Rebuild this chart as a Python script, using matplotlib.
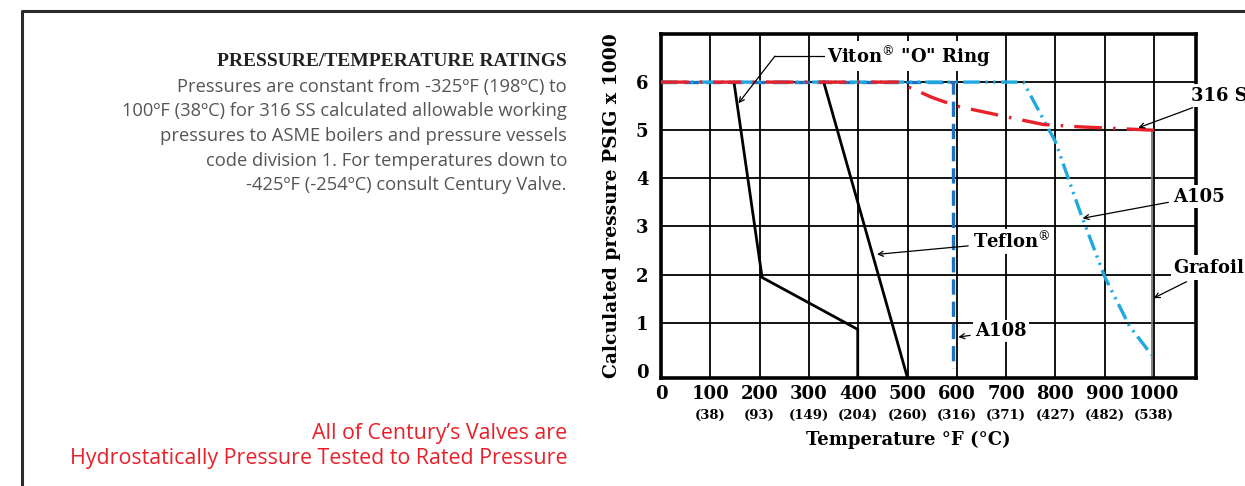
import matplotlib
matplotlib.use("Agg")
import matplotlib.pyplot as plt
from matplotlib.lines import Line2D

plt.rcParams['lines.scale_dashes'] = False
plt.rcParams['mathtext.fontset'] = 'dejavuserif'

# ---------------- data ----------------
temps_f = [0, 100, 200, 300, 400, 500, 600, 700, 800, 900, 1000]
temps_c = ["", "(38)", "(93)", "(149)", "(204)", "(260)", "(316)", "(371)", "(427)", "(482)", "(538)"]
pressure_ticks = [0, 1, 2, 3, 4, 5, 6]

y_floor = -0.15  # bottom of the chart frame

ss316_x = [0, 480, 550, 600, 700, 775, 850, 1000]
ss316_y = [6, 6, 5.68, 5.5, 5.28, 5.12, 5.07, 5.0]

a105_x = [0, 735, 800, 850, 900, 950, 995]
a105_y = [6, 6, 4.76, 3.3, 1.95, 0.93, 0.33]

a108_x = [0, 593, 593]
a108_y = [6, 6, 0.05]

viton_x = [148, 205, 399, 399]
viton_y = [6, 1.94, 0.86, y_floor]

teflon_x = [330, 500]
teflon_y = [6, y_floor]

grafoil_x = [995, 995]
grafoil_y = [5.0, y_floor]

# ---------------- figure ----------------
W, H = 1245, 486
fig = plt.figure(figsize=(W / 100, H / 100), dpi=100)
fig.patch.set_facecolor('white')

def fx(px):
    return px / W

def fy(py):
    return 1 - py / H

ax = fig.add_axes([fx(661), fy(378), fx(1196) - fx(661), fy(34) - fy(378)])
ax.set_xlim(0, 1085)
ax.set_ylim(y_floor, 7.0)

# grid
for t in temps_f[1:]:
    ax.axvline(t, color='black', lw=1.3, zorder=1)
for p in pressure_ticks[1:]:
    ax.axhline(p, color='black', lw=1.3, zorder=1)

for s in ax.spines.values():
    s.set_linewidth(2.6)
    s.set_color('black')

serif = 'DejaVu Serif'

ax.set_yticks(pressure_ticks)
ax.set_yticklabels([str(p) for p in pressure_ticks], fontfamily=serif,
                   fontweight='bold', fontsize=13)
ax.set_xticks(temps_f)
ax.set_xticklabels([str(t) for t in temps_f], fontfamily=serif,
                   fontweight='bold', fontsize=13)
ax.tick_params(axis='both', length=0)
ax.tick_params(axis='y', pad=9)
ax.tick_params(axis='x', pad=5)

xt = ax.get_xaxis_transform()
for t, c in zip(temps_f, temps_c):
    if c:
        ax.text(t, -0.108, c, transform=xt, ha='center', va='center',
                fontfamily=serif, fontweight='bold', fontsize=9.5, clip_on=False)

ax.text(0.462, -0.18, 'Temperature °F (°C)', transform=ax.transAxes, ha='center',
        va='center', fontfamily=serif, fontweight='bold', fontsize=13)
ax.text(-0.092, 0.5, 'Calculated pressure PSIG x 1000', transform=ax.transAxes,
        rotation=90, ha='center', va='center', fontfamily=serif,
        fontweight='bold', fontsize=13.5)

# ---------------- series ----------------
ax.plot(a108_x, a108_y, color='#1f70c1', lw=2.4, dashes=(11, 5), zorder=3)
ax.plot(a105_x, a105_y, color='#1ea8e0', lw=2.4, dashes=(12, 4, 1.6, 4, 1.6, 4), zorder=4)
ax.plot(ss316_x, ss316_y, color='#e8202a', lw=2.4, dashes=(20, 8, 1.8, 8), zorder=5)
ax.plot(viton_x, viton_y, color='black', lw=2.0, zorder=4, solid_joinstyle='miter')
ax.plot(teflon_x, teflon_y, color='black', lw=2.0, zorder=4)
ax.plot(grafoil_x, grafoil_y, color='#777777', lw=1.3, zorder=2)

# ---------------- annotations ----------------
lab_kw = dict(fontfamily=serif, fontweight='bold', fontsize=13, va='center',
              ha='left', annotation_clip=False, zorder=6,
              bbox=dict(boxstyle='square,pad=0.12', fc='white', ec='none'))
arr = dict(arrowstyle='->', color='black', lw=0.9, shrinkA=2, shrinkB=0,
           mutation_scale=9)

# Viton: elbow leader
ax.plot([231, 337], [6.54, 6.54], color='black', lw=0.9, zorder=5, clip_on=False)
ax.annotate('', xy=(157, 5.56), xytext=(231, 6.54),
            arrowprops=dict(arr, shrinkA=0), annotation_clip=False, zorder=6)
ax.annotate(r'Viton$^{\circledR}$ "O" Ring', xy=(337, 6.54), xytext=(337, 6.54), **lab_kw)

ax.annotate(r'Teflon$^{\circledR}$', xy=(438, 2.42), xytext=(633, 2.68),
            arrowprops=arr, **lab_kw)
ax.annotate('A108', xy=(603, 0.70), xytext=(637, 0.83),
            arrowprops=arr, **lab_kw)
ax.annotate('A105', xy=(855, 3.17), xytext=(1039, 3.62),
            arrowprops=arr, **lab_kw)
ax.annotate('316 SS', xy=(968, 5.05), xytext=(1074, 5.72),
            arrowprops=arr, **lab_kw)
ax.annotate(r'Grafoil$^{\circledR}$', xy=(999, 1.51), xytext=(1038, 2.14),
            arrowprops=arr, **lab_kw)

# ---------------- page text ----------------
fig.text(fx(567), fy(62), 'PRESSURE/TEMPERATURE RATINGS', ha='right', va='center',
         fontfamily='Liberation Serif', fontweight='bold', fontsize=14,
         color='#222222')

body = [
    "Pressures are constant from -325ºF (198ºC) to",
    "100ºF (38ºC) for 316 SS calculated allowable working",
    "pressures to ASME boilers and pressure vessels",
    "code division 1. For temperatures down to",
    "-425ºF (-254ºC) consult Century Valve.",
]
for i, line in enumerate(body):
    fig.text(fx(567), fy(87 + i * 24.5), line, ha='right', va='center',
             fontfamily='Open Sans', fontsize=13.2, color='#555555')

fig.text(fx(567), fy(433), "All of Century’s Valves are", ha='right', va='center',
         fontfamily='Open Sans', fontsize=15.4, color='#e8202a')
fig.text(fx(567), fy(458), "Hydrostatically Pressure Tested to Rated Pressure",
         ha='right', va='center', fontfamily='Open Sans', fontsize=15.4,
         color='#e8202a')

# page border
fig.add_artist(Line2D([fx(22), fx(22), 1.0], [0.0, fy(11), fy(11)],
                      color='#2a2a2a', lw=2.2, transform=fig.transFigure))

fig.savefig('out.png', dpi=100, facecolor='white')
